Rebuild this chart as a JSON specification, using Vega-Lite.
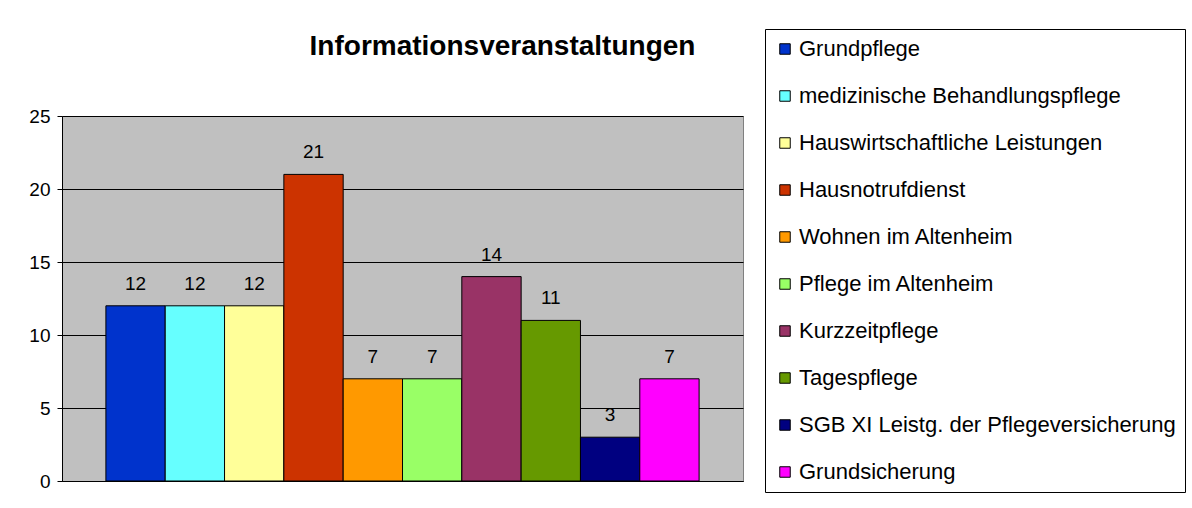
{
  "$schema": "https://vega.github.io/schema/vega-lite/v6.json",
  "autosize": {"type": "none"},
  "padding": {"left": 62, "top": 116, "right": 449, "bottom": 27},
  "width": 681,
  "height": 365,
  "background": "white",
  "config": {
    "font": "Liberation Sans",
    "view": {"fill": "#C0C0C0", "stroke": "#808080", "strokeWidth": 1}
  },
  "title": {
    "text": "Informationsveranstaltungen",
    "anchor": "middle",
    "frame": "group",
    "dx": 100,
    "offset": -54,
    "baseline": "alphabetic",
    "font": "Liberation Sans",
    "fontSize": 28,
    "fontWeight": "bold",
    "color": "black"
  },
  "data": {
    "values": [
      {"name": "Grundpflege", "value": 12},
      {"name": "medizinische Behandlungspflege", "value": 12},
      {"name": "Hauswirtschaftliche Leistungen", "value": 12},
      {"name": "Hausnotrufdienst", "value": 21},
      {"name": "Wohnen im Altenheim", "value": 7},
      {"name": "Pflege im Altenheim", "value": 7},
      {"name": "Kurzzeitpflege", "value": 14},
      {"name": "Tagespflege", "value": 11},
      {"name": "SGB XI Leistg. der Pflegeversicherung", "value": 3},
      {"name": "Grundsicherung", "value": 7}
    ]
  },
  "encoding": {
    "x": {
      "field": "name",
      "type": "nominal",
      "sort": null,
      "scale": {"paddingInner": 0, "paddingOuter": 0.74},
      "axis": {"title": null, "labels": false, "ticks": false, "domainColor": "black", "domainWidth": 1}
    },
    "y": {
      "field": "value",
      "type": "quantitative",
      "scale": {"domain": [0, 25], "nice": false},
      "axis": {
        "title": null,
        "values": [0, 5, 10, 15, 20, 25],
        "grid": true,
        "gridColor": "black",
        "gridWidth": 1,
        "gridOpacity": 1,
        "domainColor": "black",
        "tickColor": "black",
        "tickSize": 5,
        "labelPadding": 7,
        "labelFontSize": 19,
        "labelColor": "black",
        "labelFont": "Liberation Sans"
      }
    }
  },
  "layer": [
    {
      "mark": {"type": "bar", "stroke": "black", "strokeWidth": 1},
      "encoding": {
        "color": {
          "field": "name",
          "type": "nominal",
          "sort": null,
          "scale": {
            "domain": ["Grundpflege", "medizinische Behandlungspflege", "Hauswirtschaftliche Leistungen", "Hausnotrufdienst", "Wohnen im Altenheim", "Pflege im Altenheim", "Kurzzeitpflege", "Tagespflege", "SGB XI Leistg. der Pflegeversicherung", "Grundsicherung"],
            "range": ["#0033CC", "#66FFFF", "#FFFF99", "#CC3300", "#FF9900", "#99FF66", "#993366", "#669900", "#000080", "#FF00FF"]
          },
          "legend": {
            "title": null,
            "orient": "none",
            "legendX": 703,
            "legendY": -87,
            "padding": 9,
            "strokeColor": "black",
            "fillColor": "white",
            "symbolType": "square",
            "symbolSize": 110,
            "symbolStrokeColor": "black",
            "symbolStrokeWidth": 1,
            "symbolOpacity": 1,
            "labelFontSize": 22,
            "labelFont": "Liberation Sans",
            "labelColor": "black",
            "labelOffset": 3,
            "labelLimit": 500,
            "rowPadding": 25
          }
        }
      }
    },
    {
      "mark": {"type": "text", "dy": -16, "baseline": "alphabetic", "fontSize": 19, "font": "Liberation Sans", "color": "black"},
      "encoding": {"text": {"field": "value", "type": "quantitative"}}
    }
  ]
}
